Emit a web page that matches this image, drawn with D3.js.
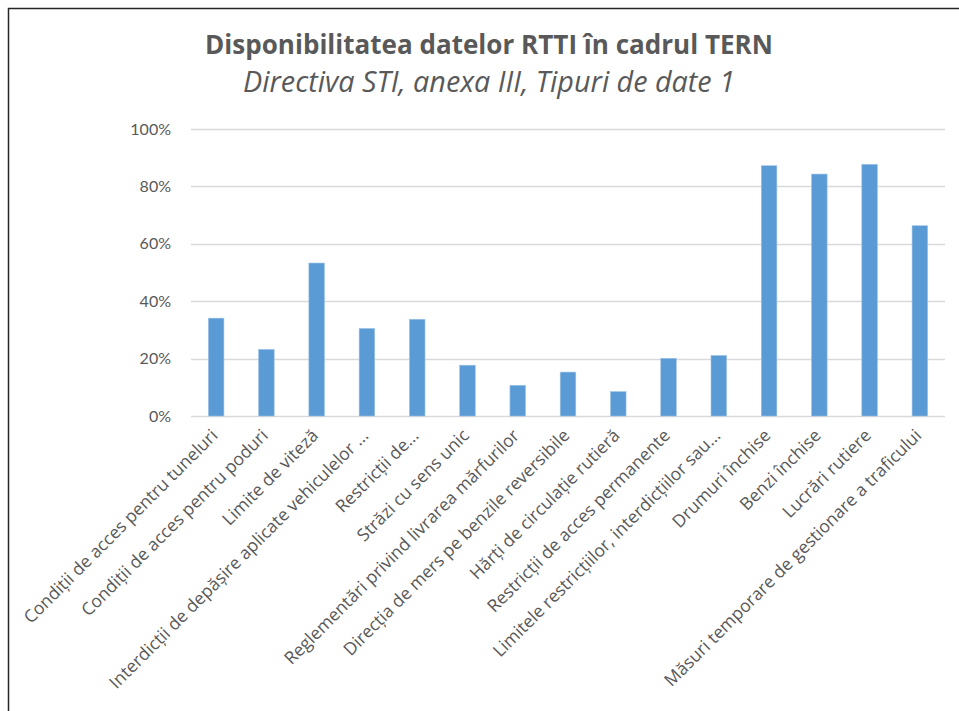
<!DOCTYPE html>
<html lang="ro">
<head>
<meta charset="UTF-8">
<title>Disponibilitatea datelor RTTI</title>
<script src="https://d3js.org/d3.v7.min.js"></script>
<style>
  body { margin: 0; background: #fff; }
  svg text { font-family: "Open Sans", Lato, sans-serif; }
</style>
</head>
<body>
<div id="chart"></div>
<script>
// data
const categories = [
  "Condiții de acces pentru tuneluri",
  "Condiții de acces pentru poduri",
  "Limite de viteză",
  "Interdicții de depășire aplicate vehiculelor ...",
  "Restricții de...",
  "Străzi cu sens unic",
  "Reglementări privind livrarea mărfurilor",
  "Direcția de mers pe benzile reversibile",
  "Hărți de circulație rutieră",
  "Restricții de acces permanente",
  "Limitele restricțiilor, interdicțiilor sau...",
  "Drumuri închise",
  "Benzi închise",
  "Lucrări rutiere",
  "Măsuri temporare de gestionare a traficului"
]
const values = [0.341, 0.232, 0.533, 0.305, 0.337, 0.177, 0.107, 0.153, 0.085, 0.201, 0.211, 0.872, 0.843, 0.877, 0.663]
const yTicks = [0, 0.2, 0.4, 0.6, 0.8, 1.0]

const W = 959, H = 711
const margin = {left: 191, right: 14, top: 129, bottom: 295}

const svg = d3.select("#chart").append("svg")
    .attr("width", W)
    .attr("height", H)

// frame (left + top edge only, as in the screenshot)
svg.append("path")
    .attr("d", "M8.5," + H + " V8.5 H" + W)
    .attr("fill", "none")
    .attr("stroke", "#262626")
    .attr("stroke-width", 1.5)

const x = d3.scaleBand()
    .domain(categories)
    .range([margin.left, W - margin.right])
    .paddingInner(0.69)
    .paddingOuter(0.345)

const y = d3.scaleLinear()
    .domain([0, 1])
    .range([H - margin.bottom, margin.top])

// shrink/grow a text node's font so it spans the wanted width
function fitWidth(sel, size, target) {
    sel.attr("font-size", size)
    let w = sel.node().getComputedTextLength()
    if (w > 0) sel.attr("font-size", size * target / w)
}

// title
const title = svg.append("text")
    .attr("x", 489).attr("y", 54)
    .attr("text-anchor", "middle")
    .attr("font-weight", "bold")
    .attr("fill", "#595959")
    .text("Disponibilitatea datelor RTTI în cadrul TERN")
fitWidth(title, 24, 568)

const subtitle = svg.append("text")
    .attr("x", 489).attr("y", 92)
    .attr("text-anchor", "middle")
    .attr("font-style", "italic")
    .attr("fill", "#595959")
    .text("Directiva STI, anexa III, Tipuri de date 1")
fitWidth(subtitle, 24, 492)

// gridlines
svg.append("g")
    .selectAll("line")
    .data(yTicks)
    .enter().append("line")
    .attr("x1", margin.left)
    .attr("x2", W - margin.right)
    .attr("y1", d => Math.round(y(d)) + 0.5)
    .attr("y2", d => Math.round(y(d)) + 0.5)
    .attr("stroke", "#d9d9d9")
    .attr("stroke-width", 1.3)

// y axis labels
const yAxis = svg.append("g")
    .attr("transform", "translate(" + (margin.left - 20) + ",0)")
    .call(d3.axisLeft(y).tickValues(yTicks).tickFormat(d3.format(".0%")).tickSize(0).tickPadding(0))
yAxis.select(".domain").remove()
yAxis.selectAll("text")
    .attr("font-size", 16)
    .attr("fill", "#595959")
    .style("font-family", "Lato, 'Open Sans', sans-serif")

// bars
svg.append("g")
    .selectAll("rect")
    .data(values)
    .enter().append("rect")
    .attr("x", (d, i) => x(categories[i]))
    .attr("y", d => y(d))
    .attr("width", x.bandwidth())
    .attr("height", d => y(0) - y(d))
    .attr("fill", "#5b9bd5")
    .attr("stroke", "#9dc3e6")
    .attr("stroke-width", 0.6)

// category labels, rotated
svg.append("g")
    .selectAll("text")
    .data(categories)
    .enter().append("text")
    .attr("transform", d => "translate(" + (x(d) + x.bandwidth() / 2 - 6) + "," + (y(0) + 12) + ") rotate(-45)")
    .attr("text-anchor", "end")
    .attr("dy", "0.7em")
    .attr("font-size", 17.5)
    .attr("fill", "#595959")
    .text(d => d)
</script>
</body>
</html>
